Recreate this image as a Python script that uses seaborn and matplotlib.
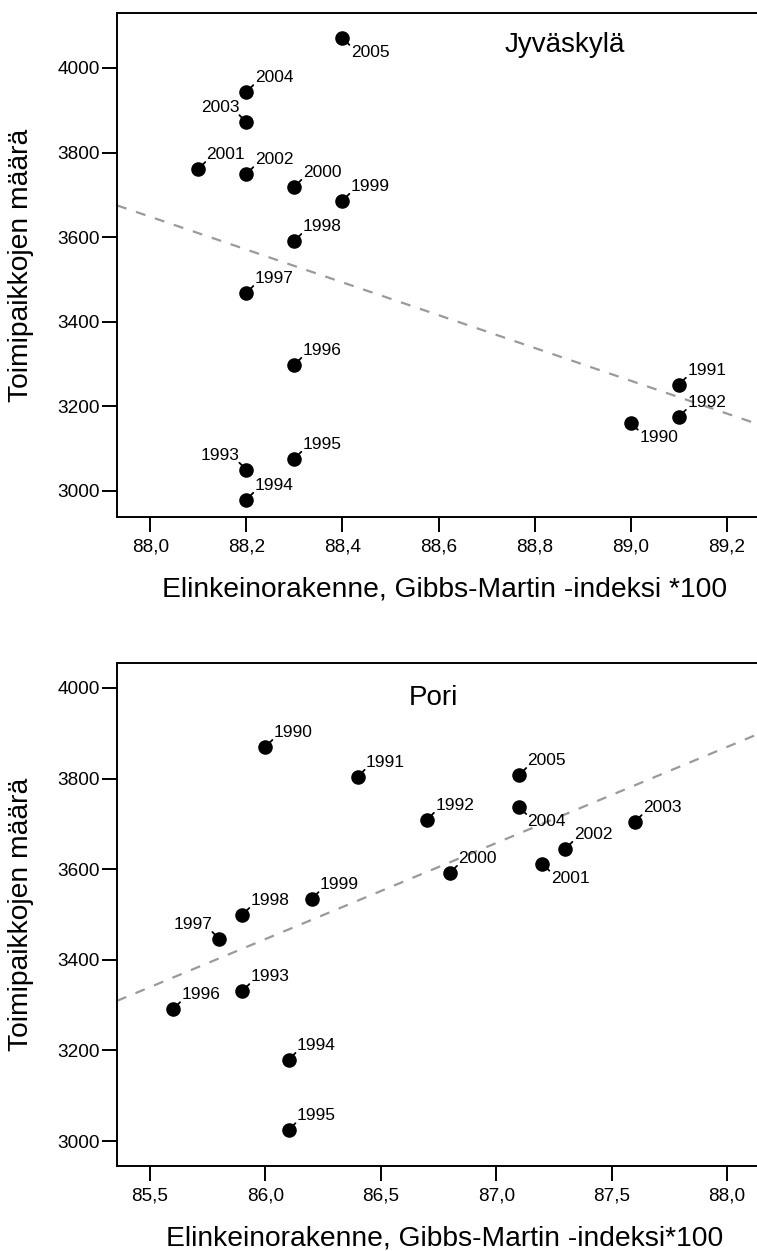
import matplotlib

matplotlib.use("Agg")
import matplotlib.pyplot as plt
import numpy as np
import pandas as pd
import seaborn as sns
from matplotlib.ticker import FuncFormatter

# Jyväskylä: index * 100 vs number of establishments, 1990-2005
jkl_years = [1990, 1991, 1992, 1993, 1994, 1995, 1996, 1997,
             1998, 1999, 2000, 2001, 2002, 2003, 2004, 2005]
jkl_index = [89.0, 89.1, 89.1, 88.2, 88.2, 88.3, 88.3, 88.2,
             88.3, 88.4, 88.3, 88.1, 88.2, 88.2, 88.2, 88.4]
jkl_count = [3161, 3251, 3175, 3050, 2979, 3076, 3298, 3468,
             3591, 3686, 3719, 3761, 3749, 3872, 3943, 4071]
# label direction: ur = up-right, ul = up-left, lr = down-right
jkl_pos = ["lr", "ur", "ur", "ul", "ur", "ur", "ur", "ur",
           "ur", "ur", "ur", "ur", "ur", "ul", "ur", "lr"]

# Pori
pori_years = jkl_years
pori_index = [86.0, 86.4, 86.7, 85.9, 86.1, 86.1, 85.6, 85.8,
              85.9, 86.2, 86.8, 87.2, 87.3, 87.6, 87.1, 87.1]
pori_count = [3870, 3804, 3709, 3331, 3179, 3024, 3291, 3446,
              3499, 3534, 3592, 3612, 3645, 3704, 3737, 3808]
pori_pos = ["ur", "ur", "ur", "ur", "ur", "ur", "ur", "ul",
            "ur", "ur", "ur", "lr", "ur", "ur", "lr", "ur"]

sns.set_theme(style="ticks")
plt.rcParams["font.family"] = ["Liberation Sans", "DejaVu Sans"]
plt.rcParams["text.color"] = "black"
plt.rcParams["axes.labelcolor"] = "black"
plt.rcParams["xtick.color"] = "black"
plt.rcParams["ytick.color"] = "black"

fig = plt.figure(figsize=(7.57, 12.51), dpi=100)
ax1 = fig.add_axes([0.1546, 0.5867, 0.8454, 0.4029])
ax2 = fig.add_axes([0.1546, 0.068, 0.8454, 0.402])

comma = FuncFormatter(lambda v, _: f"{v:.1f}".replace(".", ","))

OFFS = {"ur": (5, 5), "ul": (-5, 5), "lr": (5, -5)}
TXT = {"ur": (6, 5, "left", "bottom"), "ul": (-5, 5, "right", "bottom"),
       "lr": (6, -5, "left", "top")}


def panel(ax, x, y, years, pos, xlim, ylim, xticks, name, name_xy, xlabel):
    ax.set_xlim(*xlim)
    ax.set_ylim(*ylim)
    df = pd.DataFrame({"x": x, "y": y})
    sns.regplot(data=df, x="x", y="y", scatter=False, ci=None, truncate=False,
                ax=ax, line_kws=dict(color="#9a9a9a", lw=1.6, ls=(0, (4.5, 4.5))))
    for xi, yi, yr, p in zip(x, y, years, pos):
        ax.annotate("", xy=(xi, yi), xytext=OFFS[p], textcoords="offset points",
                    arrowprops=dict(arrowstyle="-", lw=1.3, color="black",
                                    shrinkA=0, shrinkB=0))
        dx, dy, ha, va = TXT[p]
        ax.annotate(str(yr), xy=(xi, yi), xytext=(dx, dy),
                    textcoords="offset points", ha=ha, va=va, fontsize=12.5)
    sns.scatterplot(data=df, x="x", y="y", color="black", s=110, edgecolor="black",
                    linewidth=0, ax=ax, zorder=3)
    ax.set_xticks(xticks)
    ax.set_yticks([3000, 3200, 3400, 3600, 3800, 4000])
    ax.xaxis.set_major_formatter(comma)
    ax.tick_params(direction="out", length=10.5, width=1.4, labelsize=13.7)
    ax.tick_params(axis="y", pad=2)
    ax.tick_params(axis="x", pad=5)
    for s in ["top", "left", "bottom"]:
        ax.spines[s].set_linewidth(1.4)
        ax.spines[s].set_color("black")
    ax.spines["right"].set_visible(False)
    ax.set_xlabel(xlabel, fontsize=20.3)
    ax.set_ylabel("Toimipaikkojen määrä", fontsize=20.3)
    ax.xaxis.set_label_coords(0.512, -0.118)
    ax.yaxis.set_label_coords(-0.13, 0.5)
    ax.text(*name_xy, name, transform=ax.transAxes, ha="center", va="center",
            fontsize=20)


panel(ax1, jkl_index, jkl_count, jkl_years, jkl_pos,
      (87.931, 89.2625), (2938, 4130), [88.0, 88.2, 88.4, 88.6, 88.8, 89.0, 89.2],
      "Jyväskylä", (0.70, 0.937), "Elinkeinorakenne, Gibbs-Martin -indeksi *100")
panel(ax2, pori_index, pori_count, pori_years, pori_pos,
      (85.357, 88.13), (2945, 4055), [85.5, 86.0, 86.5, 87.0, 87.5, 88.0],
      "Pori", (0.494, 0.930), "Elinkeinorakenne, Gibbs-Martin -indeksi*100")

fig.savefig("out.png", dpi=100)
